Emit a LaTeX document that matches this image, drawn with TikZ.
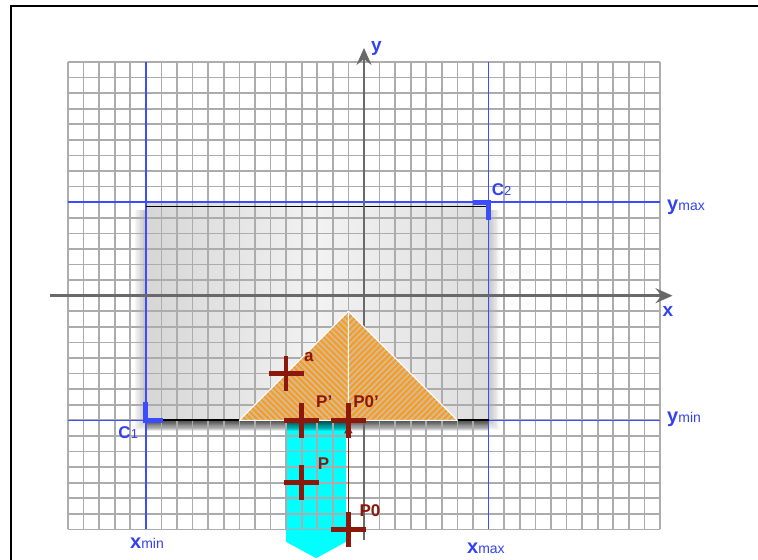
\documentclass[tikz,border=0pt]{standalone}
\usepackage{fontspec}
\setmainfont{Liberation Sans}
\usetikzlibrary{arrows.meta,patterns.meta}
\definecolor{gridgray}{RGB}{172,172,172}
\definecolor{bluel}{RGB}{60,76,255}
\definecolor{lblblue}{RGB}{50,66,240}
\definecolor{axgray}{RGB}{105,105,105}
\definecolor{dred}{RGB}{140,24,12}
\definecolor{tanc}{RGB}{214,186,150}
\definecolor{orng}{RGB}{247,156,30}
\definecolor{cyanc}{RGB}{0,255,255}
\begin{document}
\begin{tikzpicture}[x=15.58pt,y=15.58pt,
  gridline/.style={draw=gridgray,line width=1.7pt},
  blueline/.style={draw=bluel,line width=1.6pt},
  corner/.style={draw=bluel,line width=5pt,line cap=butt,line join=miter},
  axisline/.style={draw=axgray,line width=2.5pt,-{Stealth[length=17pt,width=15pt,inset=6pt]}},
  blab/.style={text=lblblue,inner sep=0pt,anchor=base west},
  rlab/.style={text=dred,inner sep=0pt,anchor=base west,font=\bfseries\fontsize{17}{17}\selectfont},
  crossmark/.pic={\draw[dred,line width=4.5pt] (-1.12,0)--(1.12,0) (0,-1.12)--(0,1.12);}
]
\useasboundingbox (-23.363,-16.964) rectangle (25.289,18.979);
% frame
\draw[black,line width=2pt] (-22.66,-16.964) -- (-22.66,18.59) -- (25.289,18.59);
% cyan pointer
\fill[cyanc] (-5,-8) -- (-1.15,-8) -- (-1.15,-15.8) -- (-3.07,-16.85) -- (-5,-15.8) -- cycle;
% rectangle shadow
\foreach \k in {1,...,8}
  \fill[black,opacity=0.03] (-14-0.09*\k,-8-0.08*\k) rectangle (8+0.09*\k,5.5);
\foreach \k in {0,...,9}
  \fill[black,opacity=0.085] (-14,-8) rectangle (8,-8.07-0.065*\k);
% clipping rectangle
\shade[left color=black!16,right color=black!13,middle color=black!5] (-14,-8) rectangle (8,6);
% grid
\foreach \i in {-19,...,19} \draw[gridline] (\i,-15) -- (\i,15);
\foreach \j in {-15,...,15} \draw[gridline] (-19,\j) -- (19,\j);
% clipping lines
\draw[blueline] (-14,-15) -- (-14,15);
\draw[blueline] (8,-15) -- (8,15);
\draw[blueline] (-19,6) -- (19,6);
\draw[blueline] (-19,-8) -- (19,-8);
\draw[black,line width=1.2pt] (-14,5.74) -- (8,5.74);
\draw[black,line width=2pt] (-14,-8) -- (8,-8);
\draw[corner] (-14,-6.85) -- (-14,-8) -- (-12.9,-8);
\draw[corner] (7,6) -- (8,6) -- (8,4.85);
% axes
\draw[axisline] (-20.15,0) -- (19.8,0);
\draw[axisline] (0,-15.7) -- (0,15.9);
% triangle
\coordinate (apex) at (-1,-1);
\coordinate (bl) at (-8,-8);
\coordinate (br) at (6,-8);
\coordinate (bm) at (-1,-8);
\fill[tanc] (bl) -- (apex) -- (br) -- cycle;
\fill[pattern={Lines[angle=-45,distance=4.2pt,line width=2pt]},pattern color=orng] (bl) -- (apex) -- (bm) -- cycle;
\fill[pattern={Lines[angle=45,distance=4.2pt,line width=2pt]},pattern color=orng] (bm) -- (apex) -- (br) -- cycle;
\draw[white,line width=1pt,line join=round] (bl) -- (apex) -- (br) -- cycle (apex) -- (bm);
% points
\coordinate (a) at (-5,-5);
\coordinate (Pp) at (-4,-8);
\coordinate (P0p) at (-1,-8);
\coordinate (P) at (-4,-12);
\coordinate (P0) at (-1,-15);
\pic at (a) {crossmark};
\pic at (Pp) {crossmark};
\pic at (P0p) {crossmark};
\pic at (P) {crossmark};
\pic at (P0) {crossmark};
\draw[dred,line width=1.8pt,-{Latex[length=9pt,width=9pt]},shorten >=4pt] (P0) -- (P0p);
% red labels
\node[rlab] (la) at (-3.85,-4.24) {a};
\node[rlab] (lPp) at (-3.08,-7.16) {P'};
\node[rlab] (lP0p) at (-0.7,-7.16) {P0'};
\node[rlab] (lP) at (-2.97,-11.14) {P};
\node[rlab] (lP0) at (-0.3,-14.18) {P0};
% blue labels
\node[blab,font=\bfseries\fontsize{19}{19}\selectfont] (lx) at (19.15,-1.36) {x};
\node[blab,font=\bfseries\fontsize{19}{19}\selectfont] (ly) at (0.45,15.7) {y};
\node[blab] (lymax) at (19.45,5.5) {{\bfseries\fontsize{20}{20}\selectfont y}{\fontsize{14}{14}\selectfont max}};
\node[blab] (lymin) at (19.45,-8.17) {{\bfseries\fontsize{20}{20}\selectfont y}{\fontsize{14}{14}\selectfont min}};
\node[blab] (lxmin) at (-15.02,-16.2) {{\bfseries\fontsize{20}{20}\selectfont x}{\fontsize{14}{14}\selectfont min}};
\node[blab] (lxmax) at (6.61,-16.53) {{\bfseries\fontsize{20}{20}\selectfont x}{\fontsize{14}{14}\selectfont max}};
\node[blab] (lC1) at (-15.77,-9.15) {{\bfseries\fontsize{17}{17}\selectfont C}{\fontsize{13}{13}\selectfont 1}};
\node[blab] (lC2) at (8.2,6.46) {{\bfseries\fontsize{17}{17}\selectfont C}{\fontsize{13}{13}\selectfont 2}};
\end{tikzpicture}
\end{document}
